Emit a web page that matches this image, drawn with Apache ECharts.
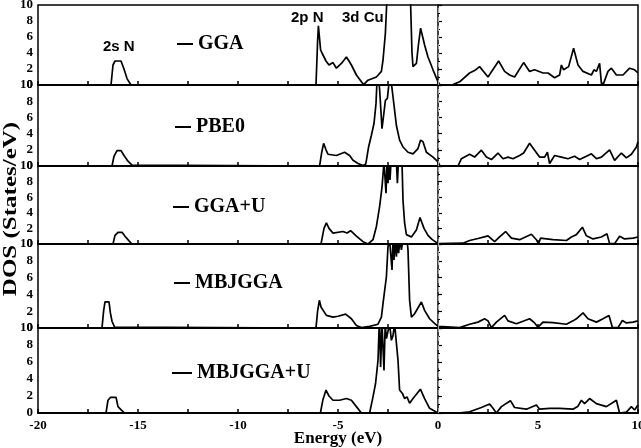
<!DOCTYPE html>
<html>
<head>
<meta charset="utf-8">
<script src="https://cdn.jsdelivr.net/npm/echarts@6/dist/echarts.min.js"></script>
<style>html,body{margin:0;padding:0;background:#fff}#c{width:641px;height:448px}</style>
</head>
<body>
<div id="c"></div>
<script>
// ---------------- data ----------------
const seriesNames = ['GGA', 'PBE0', 'GGA+U', 'MBJGGA', 'MBJGGA+U'];
const xTickLabels = ['-20', '-15', '-10', '-5', '0', '5', '10'];
const yTickLabels = ['0', '2', '4', '6', '8', '10'];
const annotations = ['2s N', '2p N', '3d Cu'];

// [energy (eV), DOS (states/eV)]
const dosGGA = [[-20,0],[-16.35,0],[-16.25,2.5],[-16.15,3.0],[-16.05,3.0],[-15.85,3.0],[-15.7,2.0],[-15.55,0.8],[-15.35,0],
[-6.1,0],[-6.02,5.5],[-5.98,7.4],[-5.87,4.4],[-5.8,4.0],[-5.6,3.0],[-5.45,2.5],[-5.25,2.8],[-5.08,2.1],[-4.83,2.7],[-4.58,3.5],[-4.45,3.0],[-4.33,2.5],[-4.08,1.25],[-3.83,0.4],[-3.72,0.05],
[-3.5,0.6],[-3.08,1.0],[-2.83,1.7],[-2.75,3.1],[-2.63,6.5],[-2.55,11],[-2.3,14],[-2.0,15],[-1.6,13],[-1.38,11],[-1.3,4],[-1.25,2.3],[-1.08,2.7],[-0.98,5.0],[-0.87,7.1],[-0.67,5.0],[-0.5,3.5],[-0.25,1.9],[0,0.4],[0.1,0],
[0.75,0.05],[1.08,0.4],[1.58,1.5],[1.83,1.8],[2.08,2.3],[2.5,1.0],[3.03,3.0],[3.33,1.7],[3.58,1.25],[3.83,1.0],[4.28,2.8],[4.58,1.7],[4.83,1.9],[5.25,1.5],[5.5,1.5],[5.83,0.9],[6.08,1.25],[6.17,2.5],[6.28,1.9],[6.53,2.3],[6.78,4.6],[7.0,2.5],[7.25,1.7],[7.67,1.25],[7.8,1.9],[7.92,1.7],[8.08,2.7],[8.17,0.2],[8.28,0.2],[8.5,1.7],[8.67,2.1],[8.92,1.25],[9.25,1.25],[9.58,2.1],[9.83,1.9],[10,1.5]];

const dosPBE0 = [[-20,0],[-16.3,0],[-16.2,1.2],[-16.05,1.9],[-15.85,1.9],[-15.7,1.3],[-15.5,0.6],[-15.3,0.1],[-15.2,0],
[-5.92,0],[-5.82,1.6],[-5.72,2.8],[-5.6,2.0],[-5.5,1.45],[-5.08,1.3],[-4.67,1.7],[-4.42,1.3],[-4.25,0.7],[-4.0,0.3],[-3.75,0.05],[-3.62,0.2],
[-3.58,0.7],[-3.47,2.35],[-3.33,3.8],[-3.2,5.25],[-3.1,7.7],[-3.05,10.5],[-2.98,11],[-2.92,9.5],[-2.8,4.6],[-2.63,8.1],[-2.53,8.35],[-2.47,9.8],[-2.4,10.5],[-2.33,10.2],[-2.25,8.55],[-2.17,6.9],[-2.08,5.0],[-1.92,3.2],[-1.75,2.35],[-1.5,1.7],[-1.25,1.5],[-1.0,2.15],[-0.87,3.2],[-0.75,3.0],[-0.58,1.7],[-0.25,1.1],[0,0.5],[0.1,0],
[1.0,0],[1.17,0.9],[1.58,1.45],[1.83,1.1],[2.17,1.95],[2.42,1.1],[2.67,0.8],[3.0,1.6],[3.25,0.9],[3.5,1.1],[3.75,0.9],[4.08,1.3],[4.28,1.6],[4.58,2.8],[4.83,1.95],[5.08,1.1],[5.33,1.1],[5.47,1.7],[5.58,0.3],[5.83,1.3],[6.17,1.1],[6.5,0.9],[6.83,1.2],[7.08,0.8],[7.42,1.2],[7.67,1.5],[7.92,0.9],[8.17,1.1],[8.58,2.0],[8.83,0.7],[9.17,1.6],[9.42,1.0],[9.67,1.45],[9.92,2.35],[10,3.0]];

const dosGGAU = [[-20,0],[-16.25,0],[-16.15,1.1],[-16.0,1.5],[-15.8,1.5],[-15.65,1.0],[-15.45,0.4],[-15.3,0],
[-5.85,0],[-5.7,2.0],[-5.58,2.7],[-5.45,2.0],[-5.25,1.4],[-4.75,1.6],[-4.55,1.4],[-4.37,1.7],[-4.08,1.0],[-3.75,0.3],[-3.5,0],[-3.25,0.55],
[-3.08,2.25],[-2.92,4.8],[-2.8,7.3],[-2.7,10.5],[-2.65,10.5],[-2.6,6.5],[-2.55,10.5],[-2.5,7.8],[-2.45,10.5],[-2.4,8.2],[-2.35,10.5],[-2.2,10.5],[-2.08,10.5],[-2.03,7.8],[-1.98,10.5],[-1.8,10.5],[-1.75,5.6],[-1.67,2.7],[-1.58,1.2],[-1.33,0.9],[-1.08,1.8],[-0.9,3.4],[-0.7,2.0],[-0.5,1.1],[-0.3,0.6],[0,0.05],
[1.25,0.1],[1.58,0.45],[2.0,0.7],[2.5,1.05],[2.83,0.3],[3.08,0.9],[3.38,1.6],[3.67,0.75],[4.08,0.55],[4.67,1.25],[4.92,0.55],[5.03,0],[5.12,0.75],[5.75,0.55],[6.42,0.45],[6.67,0.9],[6.92,1.2],[7.22,2.15],[7.42,1.05],[7.75,0.65],[8.17,0.9],[8.45,1.3],[8.58,0.05],[8.83,0.05],[9.08,1.0],[9.33,0.65],[9.75,0.75],[10,0.9]];

const dosMBJ = [[-20,0],[-16.8,0],[-16.72,2.0],[-16.65,3.1],[-16.45,3.1],[-16.38,1.8],[-16.3,0.8],[-16.17,0.1],[-16.1,0],
[-6.1,0],[-6.02,2.0],[-5.93,3.3],[-5.85,2.5],[-5.58,1.5],[-5.25,1.3],[-5.0,1.4],[-4.62,1.65],[-4.33,1.1],[-4.08,0.3],[-3.83,0.05],[-3.42,0.2],[-3.0,0.45],
[-2.83,1.3],[-2.75,2.9],[-2.58,6.1],[-2.5,9.7],[-2.42,10.5],[-2.35,10.5],[-2.3,6.9],[-2.25,10.5],[-2.2,8.1],[-2.14,10.5],[-2.08,8.5],[-2.02,10.5],[-1.97,8.9],[-1.9,10.5],[-1.83,9.3],[-1.75,10.5],[-1.55,10.5],[-1.5,9.3],[-1.42,3.3],[-1.33,1.3],[-1.17,1.7],[-0.83,3.1],[-0.67,2.1],[-0.42,1.1],[-0.2,0.6],[0,0.2],[0.1,0],
[1.08,0.05],[1.58,0.45],[2.0,0.7],[2.33,1.1],[2.5,0.85],[2.67,0.05],[2.92,0.7],[3.33,1.5],[3.5,0.85],[3.92,0.5],[4.58,1.1],[4.83,0.6],[5.0,0.1],[5.25,0.7],[5.75,0.65],[6.42,0.45],[6.75,0.85],[6.92,1.1],[7.25,1.8],[7.5,1.1],[7.92,0.7],[8.25,1.1],[8.55,1.5],[8.72,0.05],[9.0,0.05],[9.22,0.9],[9.42,0.6],[9.75,0.7],[10,0.85]];

const dosMBJU = [[-20,0],[-16.6,0],[-16.5,1.5],[-16.37,1.85],[-16.1,1.85],[-16.0,0.75],[-15.83,0.35],[-15.67,0],
[-5.88,0],[-5.75,1.6],[-5.6,2.7],[-5.45,2.0],[-5.25,1.5],[-4.92,1.5],[-4.58,1.7],[-4.33,1.5],[-4.08,0.75],[-3.83,0],[-3.42,0],
[-3.25,1.9],[-3.12,3.5],[-3.0,6.2],[-2.95,9.7],[-2.92,10.5],[-2.87,5.4],[-2.8,10.5],[-2.75,10.5],[-2.7,5.0],[-2.64,10.5],[-2.58,8.75],[-2.5,8.55],[-2.42,10.5],[-2.33,8.55],[-2.25,9.1],[-2.17,10.5],[-2.08,10.5],[-2.0,6.2],[-1.92,2.7],[-1.78,2.3],[-1.67,1.7],[-1.55,1.9],[-1.42,1.15],[-1.25,1.7],[-0.88,2.8],[-0.67,1.7],[-0.42,0.55],[0,0],
[1.0,0],[1.58,0.15],[2.17,0.65],[2.58,1.05],[2.75,0.55],[2.92,0],[3.17,0.75],[3.62,1.45],[3.83,0.65],[4.42,0.45],[4.92,0.95],[5.08,0.45],[5.58,0.55],[6.08,0.55],[6.75,0.45],[7.0,0.8],[7.17,1.5],[7.33,1.1],[7.58,1.7],[7.92,1.1],[8.42,0.75],[8.92,1.5],[9.08,0],[9.42,0.1],[9.67,0.75],[9.83,0.35],[10,0.95]];

const allDos = [dosGGA, dosPBE0, dosGGAU, dosMBJ, dosMBJU];

// ---------------- layout ----------------
const panels = [{top:5,h:80},{top:85,h:81},{top:166,h:78},{top:244,h:84},{top:328,h:85}];
const legendPos = [{left:177,top:34},{left:175,top:117},{left:173,top:197},{left:174,top:273},{left:172,top:363}];
const serif = 'Liberation Serif';

const chart = echarts.init(document.getElementById('c'), null, {renderer:'canvas'});

const grid = panels.map(p => ({left:38, right:3, top:p.top, height:p.h, show:true, borderColor:'#000', borderWidth:1.5,
  containLabel:false, outerBoundsMode:'none'}));

const xAxis = panels.map((p, i) => ({
  type:'value', gridIndex:i, min:-20, max:10, interval:2.5,
  axisLine:{show:true, onZero:false, lineStyle:{color:'#000', width:2}},
  axisTick:{show:true, inside:true, length:4, lineStyle:{color:'#000', width:1.5}},
  splitLine:{show:false},
  axisLabel:{show: i === 4, margin:6, color:'#000', fontFamily:serif, fontWeight:'bold', fontSize:13,
    showMinLabel:true, showMaxLabel:true,
    formatter: v => { const s = String(v); return xTickLabels.indexOf(s) >= 0 ? s : ''; }},
  name: i === 4 ? 'Energy (eV)' : '',
  nameLocation:'middle', nameGap:17, nameMoveOverlap:false,
  nameTextStyle:{color:'#000', fontFamily:serif, fontWeight:'bold', fontSize:17}
}));

const yAxis = panels.map((p, i) => ({
  type:'value', gridIndex:i, min:0, max:10, interval:2,
  axisLine:{show:true, lineStyle:{color:'#000', width:1.5}},
  axisTick:{show:true, inside:true, length:4, lineStyle:{color:'#000', width:1.2}},
  minorTick:{show:true, splitNumber:2, length:2, lineStyle:{color:'#000', width:1}},
  splitLine:{show:false},
  axisLabel:{margin:5, color:'#000', fontFamily:serif, fontWeight:'bold', fontSize:13,
    showMinLabel:true, showMaxLabel:true,
    formatter: v => { const s = String(v); return yTickLabels.indexOf(s) >= 0 ? s : ''; }}
}));

const series = allDos.map((d, i) => ({
  name: seriesNames[i], type:'line', xAxisIndex:i, yAxisIndex:i, data:d,
  symbol:'none', showSymbol:false, clip:true, smooth:false,
  lineStyle:{color:'#000', width:1.7}, itemStyle:{color:'#000'},
  animation:false,
  markLine:{silent:true, symbol:['none','none'], label:{show:false}, animation:false,
    lineStyle:{type:[5,4], color:'#a0a0a0', width:1.2}, data:[{xAxis:0}]}
}));

const legend = seriesNames.map((n, i) => ({
  data:[n], left:legendPos[i].left, top:legendPos[i].top, padding:0,
  icon:'rect', itemWidth: i === 4 ? 20 : 16, itemHeight:2, selectedMode:false,
  textStyle:{color:'#000', fontFamily:serif, fontWeight:'bold', fontSize:20}
}));

const graphic = [
  {type:'text', left:103, top:39, style:{text:annotations[0], font:'bold 15px "Liberation Sans"', fill:'#000'}},
  {type:'text', left:291, top:10, style:{text:annotations[1], font:'bold 15px "Liberation Sans"', fill:'#000'}},
  {type:'text', left:342, top:10, style:{text:annotations[2], font:'bold 15px "Liberation Sans"', fill:'#000'}},
  {type:'text', x:11, y:209, rotation:Math.PI/2, scaleY:0.78,
   style:{text:'DOS (States/eV)', font:'bold 25px "Liberation Serif"', fill:'#000', align:'center', verticalAlign:'middle'}}
];

chart.setOption({animation:false, backgroundColor:'#fff', grid, xAxis, yAxis, series, legend, graphic});
</script>
</body>
</html>
